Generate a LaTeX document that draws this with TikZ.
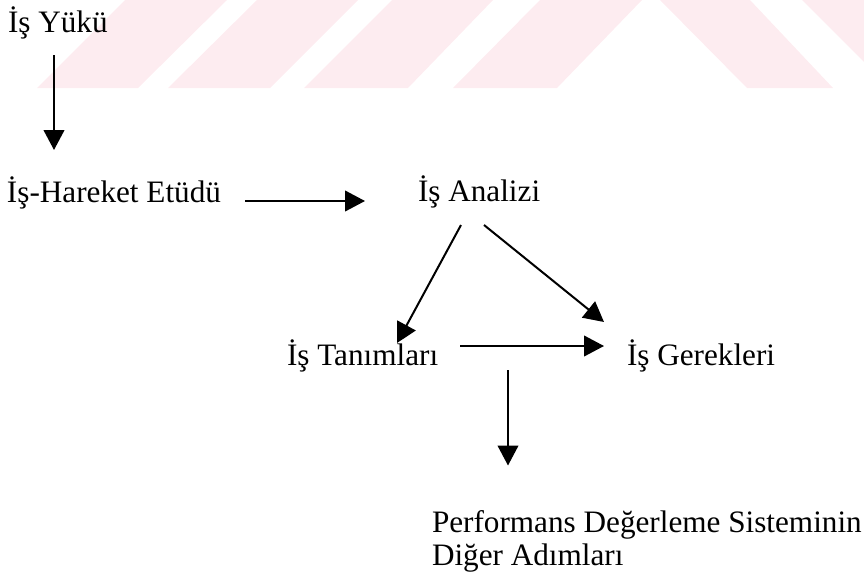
\documentclass[tikz,border=0pt]{standalone}
\usepackage{fontspec}
\setmainfont{Liberation Serif}
\usetikzlibrary{arrows.meta,calc}
\definecolor{wmpink}{RGB}{253,236,240}
\begin{document}
\begin{tikzpicture}[x=0.75pt,y=-0.75pt,
  lbl/.style={inner sep=0pt, outer sep=0pt, anchor=base west, font=\fontsize{23.4}{24.75}\selectfont},
  arr/.style={line width=1.5pt, -{Triangle[length=15pt,width=15.5pt]}},
  wm/.style={fill=wmpink, draw=none}]
\useasboundingbox (0,0) rectangle (864,575);
% faint watermark bands
\fill[wm] (37,88) -- (138,88) -- (227,0) -- (125,0) -- cycle;
\fill[wm] (168,88) -- (270,88) -- (358,0) -- (257,0) -- cycle;
\fill[wm] (304,88) -- (408,88) -- (493,0) -- (392,0) -- cycle;
\fill[wm] (453,88) -- (557,88) -- (642,0) -- (540,0) -- cycle;
\fill[wm] (660,0) -- (750,0) -- (833,88) -- (747,88) -- cycle;
\fill[wm] (802,0) -- (864,0) -- (864,62) -- cycle;
% labels
\node[lbl] (yuk) at (8,32) {İş Yükü};
\node[lbl] (hareket) at (7,202) {İş-Hareket Etüdü};
\node[lbl] (analiz) at (418,201) {İş Analizi};
\node[lbl] (tanim) at (287,365) {İş Tanımları};
\node[lbl] (gerek) at (627,365) {İş Gerekleri};
\node[lbl, anchor=north west, align=left] (perf) at (432,510.5) {Performans Değerleme Sisteminin\\Diğer Adımları};
% connectors
\draw[arr] ($(yuk.base west)+(46,23)$) -- ($(yuk.base west |- hareket.base west)+(46,-52)$);
\draw[arr] ($(hareket.base west)+(238,-1)$) -- ($(analiz.base west)+(-53,0)$);
\draw[arr] ($(analiz.base west)+(43,24)$) -- ($(tanim.base west)+(110,-22)$);
\draw[arr] ($(analiz.base west)+(66,24)$) -- ($(gerek.base west)+(-23,-43)$);
\draw[arr] ($(tanim.base west)+(173,-19)$) -- ($(gerek.base west)+(-23,-19)$);
\draw[arr] ($(perf.north west |- tanim.base west)+(76,5)$) -- ($(perf.north west)+(76,-45)$);
\end{tikzpicture}
\end{document}
